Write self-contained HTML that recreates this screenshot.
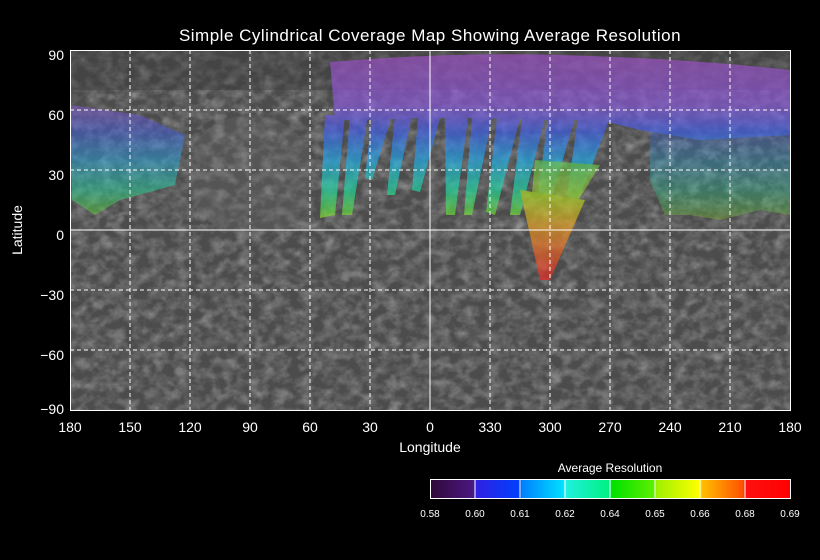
<!DOCTYPE html>
<html><head><style>
html,body{margin:0;padding:0;background:#000;}
svg{display:block;font-family:"Liberation Sans",sans-serif;}
</style></head><body>
<svg width="820" height="560" viewBox="0 0 820 560">
<defs>
<filter id="tex" x="0" y="0" width="100%" height="100%">
<feTurbulence type="fractalNoise" baseFrequency="0.08 0.1" numOctaves="3" seed="7"/>
<feColorMatrix type="matrix" values="0 0 0 0 0.45  0 0 0 0 0.45  0 0 0 0 0.45  0.6 0.6 0.6 0 -0.75"/>
</filter>
<linearGradient id="cov" x1="0" y1="55" x2="0" y2="225" gradientUnits="userSpaceOnUse">
<stop offset="0" stop-color="#a050c8"/>
<stop offset="0.3" stop-color="#8a58e0"/>
<stop offset="0.45" stop-color="#4060f0"/>
<stop offset="0.62" stop-color="#20b0f0"/>
<stop offset="0.8" stop-color="#20e0a0"/>
<stop offset="0.92" stop-color="#60e040"/>
<stop offset="1" stop-color="#d0e020"/>
</linearGradient>
<linearGradient id="vg" x1="0" y1="150" x2="0" y2="280" gradientUnits="userSpaceOnUse">
<stop offset="0" stop-color="#40e060"/>
<stop offset="0.35" stop-color="#b0e020"/>
<stop offset="0.6" stop-color="#f0a020"/>
<stop offset="1" stop-color="#f02020"/>
</linearGradient>
<linearGradient id="cb" x1="430" y1="0" x2="790" y2="0" gradientUnits="userSpaceOnUse">
<stop offset="0" stop-color="#300838"/>
<stop offset="0.12" stop-color="#4a1880"/>
<stop offset="0.125" stop-color="#3020e0"/>
<stop offset="0.25" stop-color="#0040ff"/>
<stop offset="0.255" stop-color="#0080ff"/>
<stop offset="0.37" stop-color="#00e0ff"/>
<stop offset="0.375" stop-color="#20f0e0"/>
<stop offset="0.5" stop-color="#00f080"/>
<stop offset="0.505" stop-color="#00e000"/>
<stop offset="0.625" stop-color="#60f000"/>
<stop offset="0.63" stop-color="#a0f000"/>
<stop offset="0.75" stop-color="#ffff00"/>
<stop offset="0.755" stop-color="#ffc000"/>
<stop offset="0.87" stop-color="#ff5000"/>
<stop offset="0.875" stop-color="#ff1010"/>
<stop offset="1" stop-color="#ff0000"/>
</linearGradient>
<clipPath id="mc"><rect x="70" y="50" width="720" height="360"/></clipPath>
</defs>
<text x="430" y="41" fill="#fff" font-size="17" text-anchor="middle" letter-spacing="0.5">Simple Cylindrical Coverage Map Showing Average Resolution</text>
<g clip-path="url(#mc)">
<rect x="70" y="50" width="720" height="360" fill="#4c4c4c"/>
<rect x="70" y="50" width="720" height="360" filter="url(#tex)"/>
<ellipse cx="250" cy="175" rx="65" ry="60" fill="#6a6a6a" opacity="0.3"/>
<rect x="70" y="50" width="720" height="40" fill="#3a3a3a" opacity="0.4"/>
<g opacity="0.65">
<path d="M330 62 Q450 52 560 55 Q680 58 790 70 L790 135 L700 140 L640 130 L600 120 L540 120 L480 118 L420 118 L360 120 L335 120 Z" fill="url(#cov)"/>
<g fill="url(#cov)">
<path d="M325 115 L345 115 L335 215 L320 218 Z"/>
<path d="M350 115 L368 115 L352 215 L342 215 Z"/>
<path d="M372 115 L392 115 L372 180 L365 178 Z"/>
<path d="M395 115 L412 115 L395 195 L387 195 Z"/>
<path d="M418 118 L440 118 L420 192 L412 190 Z"/>
<path d="M445 118 L468 118 L455 215 L446 215 Z"/>
<path d="M472 118 L492 118 L472 215 L464 215 Z"/>
<path d="M497 118 L520 118 L495 215 L486 212 Z"/>
<path d="M522 118 L545 118 L520 215 L510 215 Z"/>
<path d="M548 118 L575 118 L545 220 L535 218 Z"/>
<path d="M578 118 L610 118 L575 210 L565 210 Z"/>
<path d="M70 105 L140 115 L185 135 L175 185 L120 200 L95 215 L72 200 Z" opacity="0.7"/>
<path d="M650 130 L790 130 L790 215 L760 210 L720 220 L690 215 L665 215 L650 180 Z" opacity="0.45"/>
</g>
<path d="M520 190 L585 200 L550 280 L540 280 Z" fill="url(#vg)" opacity="1.3"/>
<path d="M535 160 L600 165 L560 230 L530 215 Z" fill="url(#vg)" opacity="0.8"/>
</g>
<g stroke="#fff" stroke-width="1" stroke-dasharray="4,3" fill="none">
<path d="M130 50V410M190 50V410M250 50V410M310 50V410M370 50V410M490 50V410M550 50V410M610 50V410M670 50V410M730 50V410"/>
<path d="M70 110H790M70 170H790M70 290H790M70 350H790"/>
</g>
<path d="M430 50V410M70 230H790" stroke="#fff" stroke-width="1"/>
</g>
<rect x="70.5" y="50.5" width="720" height="360" fill="none" stroke="#fff"/>
<g fill="#fff" font-size="14" text-anchor="end">
<text x="64" y="60">90</text><text x="64" y="120">60</text><text x="64" y="180">30</text>
<text x="64" y="240">0</text><text x="64" y="300">−30</text><text x="64" y="360">−60</text><text x="64" y="414">−90</text>
</g>
<g fill="#fff" font-size="14" text-anchor="middle">
<text x="70" y="432">180</text><text x="130" y="432">150</text><text x="190" y="432">120</text><text x="250" y="432">90</text>
<text x="310" y="432">60</text><text x="370" y="432">30</text><text x="430" y="432">0</text><text x="490" y="432">330</text>
<text x="550" y="432">300</text><text x="610" y="432">270</text><text x="670" y="432">240</text><text x="730" y="432">210</text><text x="790" y="432">180</text>
<text x="430" y="452">Longitude</text>
</g>
<text transform="translate(22,230) rotate(-90)" fill="#fff" font-size="14" text-anchor="middle">Latitude</text>
<text x="610" y="472" fill="#fff" font-size="12" text-anchor="middle">Average Resolution</text>
<rect x="430.5" y="479.5" width="360" height="19" fill="url(#cb)" stroke="#fff"/>
<path d="M475 480V498M520 480V498M565 480V498M610 480V498M655 480V498M700 480V498M745 480V498" stroke="#fff" stroke-width="1"/>
<g fill="#fff" font-size="10" text-anchor="middle">
<text x="430" y="517">0.58</text><text x="475" y="517">0.60</text><text x="520" y="517">0.61</text><text x="565" y="517">0.62</text>
<text x="610" y="517">0.64</text><text x="655" y="517">0.65</text><text x="700" y="517">0.66</text><text x="745" y="517">0.68</text><text x="790" y="517">0.69</text>
</g>
</svg>
</body></html>
